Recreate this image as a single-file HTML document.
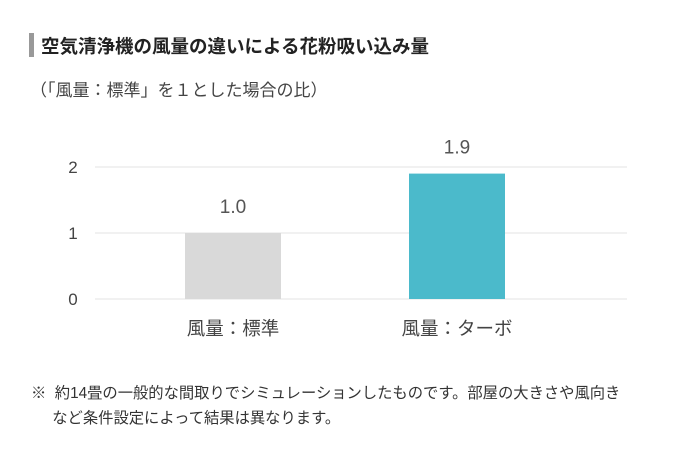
<!DOCTYPE html>
<html><head><meta charset="utf-8"><style>
body{margin:0;width:700px;height:452px;background:#fff;font-family:"Liberation Sans","Noto Sans CJK JP",sans-serif;color:#333;position:relative;overflow:hidden}
.t{position:absolute;white-space:nowrap}
</style></head><body>
<div style="position:absolute;left:29px;top:33px;width:5px;height:24px;background:#999"></div>
<div class="t" style="left:41px;top:33px;font-size:18.5px;font-weight:bold;color:#222">空気清浄機の風量の違いによる花粉吸い込み量</div>
<div class="t" style="left:30px;top:76px;font-size:17px;color:#444">（「風量：標準」を１とした場合の比）</div>
<svg id="c" width="700" height="360" style="position:absolute;left:0;top:0"></svg>
<div class="t" style="left:31px;top:381px;font-size:15.3px;line-height:25px;color:#333">※&nbsp; 約14畳の一般的な間取りでシミュレーションしたものです。部屋の大きさや風向き<br>&nbsp;&nbsp;&nbsp;&nbsp;&nbsp;など条件設定によって結果は異なります。</div>
<script>
const categories=["風量：標準","風量：ターボ"];
const values=[1.0,1.9];
const valueLabels=["1.0","1.9"];
const ticks=[0,1,2];
const colors=["#d9d9d9","#4bbacb"];
const svg=document.getElementById('c');
const NS="http://www.w3.org/2000/svg";
const gx0=95,gx1=627,bx0=121,bx1=569,yBase=299,unit=66;
const y=v=>yBase-v*unit;
const band=(bx1-bx0)/categories.length;
function mk(tag,attrs,txt){const e=document.createElementNS(NS,tag);for(const k in attrs)e.setAttribute(k,attrs[k]);if(txt!=null)e.textContent=txt;svg.appendChild(e);return e;}
ticks.forEach(t=>{
 const l=mk('line',{x1:gx0,x2:gx1,y1:y(t),y2:y(t),stroke:'#e3e3e3','stroke-width':1});
 
 
 const tx=mk('text',{x:73,y:y(t)+6,'text-anchor':'middle','font-size':17,fill:'#444','font-family':'Liberation Sans, sans-serif'},String(t));
 
 
});
categories.forEach((c,i)=>{
 const cx=bx0+band*(i+0.5);
 const w=96;
 const r=mk('rect',{x:cx-w/2,y:y(values[i]),width:w,height:yBase-y(values[i]),fill:colors[i]});
 
 
 const v=mk('text',{x:cx,y:y(values[i])-20,'text-anchor':'middle','font-size':19,fill:'#555','font-family':'Liberation Sans, sans-serif'},valueLabels[i]);
 
 
 const lb=mk('text',{x:cx,y:335,'text-anchor':'middle','font-size':18.5,fill:'#444','font-family':'Liberation Sans, Noto Sans CJK JP, sans-serif'},c);
 
 
});
</script>
</body></html>
